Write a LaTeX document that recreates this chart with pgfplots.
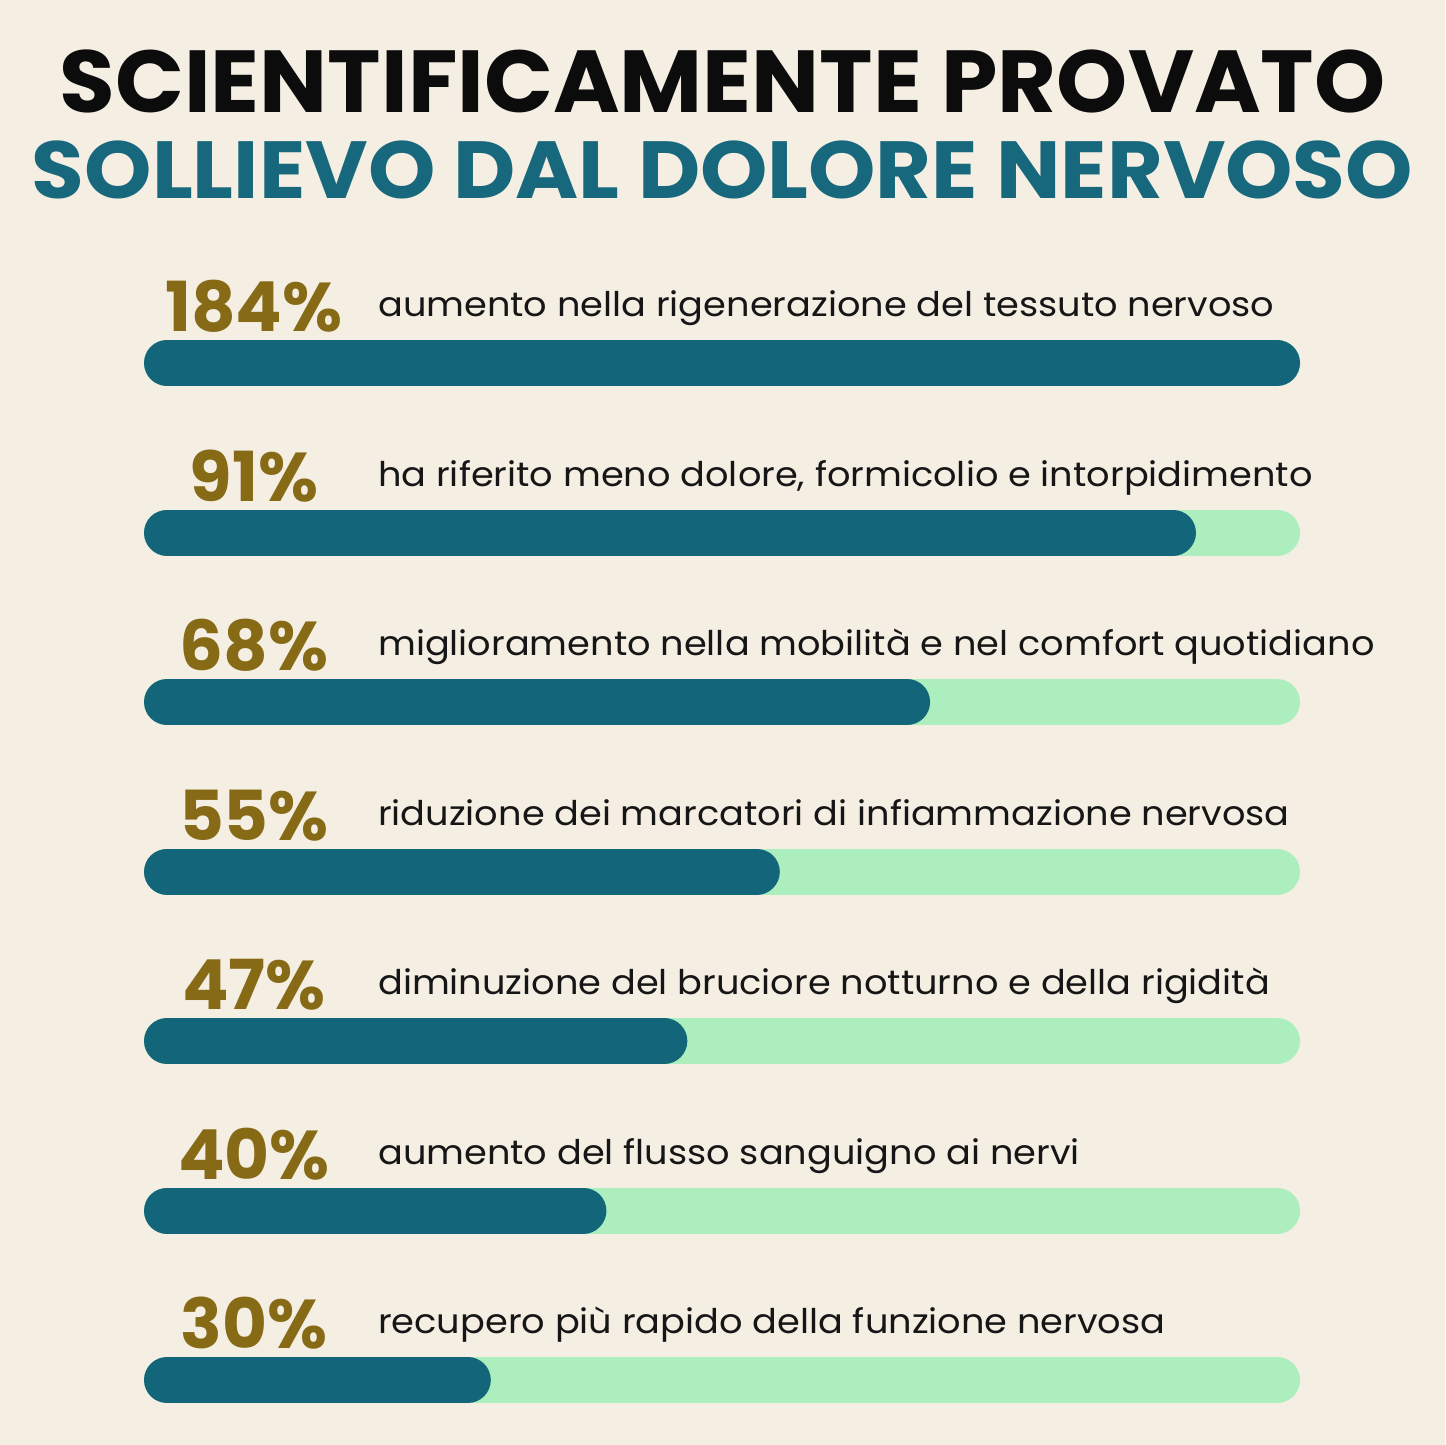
\documentclass[border=0pt]{standalone}
\usepackage{pgfplots}
\pgfplotsset{compat=1.18}
\usepackage{fontspec}
\setmainfont{Poppins}
\newfontfamily\titleA{Poppins}[FakeStretch=1.028]
\newfontfamily\titleB{Poppins}[FakeStretch=1.058]
\newfontfamily\descfont{Poppins}[FakeStretch=1.08]
\definecolor{bg}{RGB}{244,238,227}
\definecolor{barteal}{RGB}{19,101,121}
\definecolor{trackgreen}{RGB}{172,238,190}
\definecolor{goldtxt}{RGB}{134,106,22}
\definecolor{subteal}{RGB}{24,104,125}
\definecolor{titleblk}{RGB}{12,12,12}
\definecolor{desctxt}{RGB}{22,22,22}
\begin{document}
\begin{tikzpicture}
\fill[bg] (0pt,0pt) rectangle (1445pt,1445pt);
\begin{axis}[at={(0pt,0pt)}, anchor=south west, scale only axis,
  width=1445pt, height=1445pt,
  xmin=-12.457, xmax=112.543, ymin=0, ymax=1445, y dir=reverse,
  hide axis, clip=false,
  track/.style={trackgreen, line width=46pt, line cap=round, shorten <=23pt, shorten >=23pt, mark=none},
  fillbar/.style={barteal, line width=46pt, line cap=round, shorten <=23pt, shorten >=23pt, mark=none}]
% tracks (0-100%)
\addplot[track] coordinates {(0,363) (100,363)};
\addplot[track] coordinates {(0,532.5) (100,532.5)};
\addplot[track] coordinates {(0,702) (100,702)};
\addplot[track] coordinates {(0,871.5) (100,871.5)};
\addplot[track] coordinates {(0,1041) (100,1041)};
\addplot[track] coordinates {(0,1210.5) (100,1210.5)};
\addplot[track] coordinates {(0,1380) (100,1380)};
% values (184% capped at full bar)
\addplot[fillbar] coordinates {(0,363) (100,363)};
\addplot[fillbar] coordinates {(0,532.5) (91,532.5)};
\addplot[fillbar] coordinates {(0,702) (68,702)};
\addplot[fillbar] coordinates {(0,871.5) (55,871.5)};
\addplot[fillbar] coordinates {(0,1041) (47,1041)};
\addplot[fillbar] coordinates {(0,1210.5) (40,1210.5)};
\addplot[fillbar] coordinates {(0,1380) (30,1380)};
\end{axis}
% titles
\node[anchor=base, titleblk, font=\titleA\bfseries\fontsize{88}{90}\selectfont, inner sep=0pt] at (722.5pt,1332pt) {SCIENTIFICAMENTE PROVATO};
\node[anchor=base, subteal, font=\titleB\bfseries\fontsize{81}{84}\selectfont, inner sep=0pt] at (722.5pt,1246pt) {SOLLIEVO DAL DOLORE NERVOSO};
% percentages
\tikzset{pct/.style={anchor=base, goldtxt, font=\bfseries\fontsize{69}{72}\selectfont, inner sep=0pt},
         desc/.style={anchor=base west, desctxt, font=\descfont\fontsize{34}{38}\selectfont, inner sep=0pt}}
\node[pct] at (254pt,1113pt) {184\%};
\node[pct] at (254pt,943.5pt) {91\%};
\node[pct] at (254pt,774pt) {68\%};
\node[pct] at (254pt,604.5pt) {55\%};
\node[pct] at (254pt,435pt) {47\%};
\node[pct] at (254pt,265.5pt) {40\%};
\node[pct] at (254pt,96pt) {30\%};
\node[desc] at (378pt,1128pt) {aumento nella rigenerazione del tessuto nervoso};
\node[desc] at (378pt,958.5pt) {ha riferito meno dolore, formicolio e intorpidimento};
\node[desc] at (378pt,789pt) {miglioramento nella mobilità e nel comfort quotidiano};
\node[desc] at (378pt,619.5pt) {riduzione dei marcatori di infiammazione nervosa};
\node[desc] at (378pt,450pt) {diminuzione del bruciore notturno e della rigidità};
\node[desc] at (378pt,280.5pt) {aumento del flusso sanguigno ai nervi};
\node[desc] at (378pt,111pt) {recupero più rapido della funzione nervosa};
\end{tikzpicture}
\end{document}
